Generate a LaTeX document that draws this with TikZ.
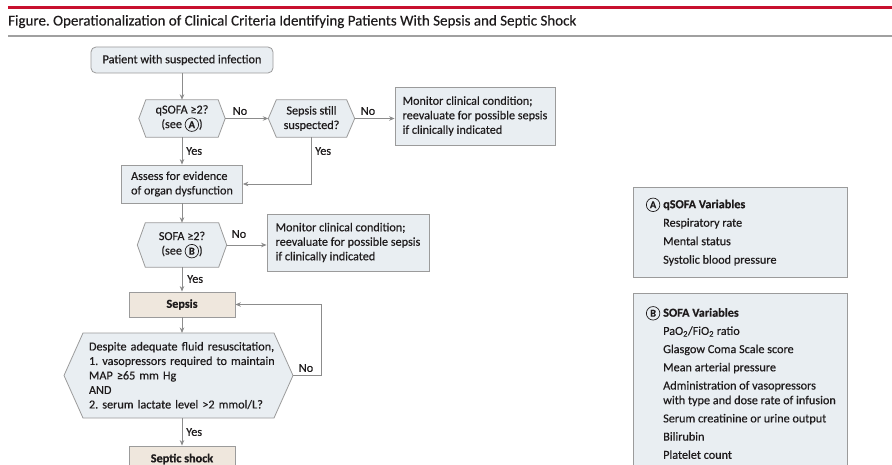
\documentclass[tikz,border=0pt]{standalone}
\usepackage{fontspec}
\setmainfont{Carlito}[UprightFeatures={FakeBold=0.35},BoldFeatures={FakeBold=0.4}]
\usetikzlibrary{arrows.meta,backgrounds}
\definecolor{jred}{HTML}{C8102E}
\definecolor{rulegray}{HTML}{A0A0A0}
\definecolor{boxfill}{HTML}{E9EEF2}
\definecolor{beige}{HTML}{EFE7DD}
\definecolor{edge}{HTML}{9B9B9B}
\definecolor{conn}{HTML}{8C8C8C}
\definecolor{ink}{HTML}{1E1B1C}
\frenchspacing
\newcommand{\circlet}[1]{\tikz[baseline=(cl.base)]\node[circle,draw=ink,line width=0.7pt,inner sep=0.5pt,minimum size=13.5pt,font=\fontsize{10.5}{10.5}\selectfont\bfseries](cl){#1};}
\tikzset{
  base/.style={font=\fontsize{12.2}{14.5}\selectfont, text=ink},
  box/.style={base, draw=edge, line width=0.8pt, fill=boxfill, inner sep=0pt, align=center},
  hexnode/.style={base, inner sep=0pt, align=center},
  hexline/.style={draw=edge, line width=0.8pt, fill=boxfill},
  arr/.style={draw=conn, line width=0.8pt, -{Stealth[length=5.5pt,width=4.5pt]}},
  lbl/.style={base, inner sep=0pt},
  listtext/.style={text=ink, inner sep=0pt, align=left, font=\fontsize{12.2}{18.5}\selectfont},
}
\newcommand{\hexdraw}[2]{%
  \begin{pgfonlayer}{background}
  \path[hexline] (#1.north west) -- (#1.north east) -- ([xshift=#2]#1.east) coordinate (#1-r)
    -- (#1.south east) -- (#1.south west) -- ([xshift=-#2]#1.west) coordinate (#1-l) -- cycle;
  \end{pgfonlayer}}
\begin{document}
\begin{tikzpicture}[x=1pt,y=-1pt]
\useasboundingbox (0,0) rectangle (892,465);
\begin{pgfonlayer}{background}
\fill[white] (0,0) rectangle (892,465);
\end{pgfonlayer}
\fill[jred] (8,6.5) rectangle (892,9.2);
\fill[rulegray] (8,35.3) rectangle (892,37);
\node[anchor=base west, font=\fontsize{15}{17}\selectfont, text=ink, inner sep=0] (title) at (8,25.5)
  {Figure. Operationalization of Clinical Criteria Identifying Patients With Sepsis and Septic Shock};

% flowchart nodes
\node[box, rounded corners=5pt, minimum width=182, minimum height=26] (patient) at (182,60)
  {Patient with suspected infection};
\node[hexnode, minimum width=72, minimum height=37] (q1) at (182,118.5)
  {qSOFA ≥2?\\(see \circlet{A})};
\hexdraw{q1}{7pt}
\node[hexnode, minimum width=70, minimum height=37] (q2) at (311.5,118.5)
  {Sepsis still\\suspected?};
\hexdraw{q2}{8pt}
\node[box, minimum width=160, minimum height=58, align=left] (mon1) at (475,116)
  {Monitor clinical condition;\\reevaluate for possible sepsis\\if clinically indicated};
\node[box, minimum width=121, minimum height=38, align=left] (assess) at (182,184)
  {Assess for evidence\\of organ dysfunction};
\node[hexnode, minimum width=73, minimum height=44] (q3) at (182,245)
  {SOFA ≥2?\\(see \circlet{B})};
\hexdraw{q3}{8pt}
\node[box, minimum width=162, minimum height=57, align=left] (mon2) at (348,242.5)
  {Monitor clinical condition;\\reevaluate for possible sepsis\\if clinically indicated};
\node[box, fill=beige, minimum width=106, minimum height=25, font=\fontsize{12.2}{14.5}\selectfont\bfseries] (sepsis) at (182,304.5)
  {Sepsis};
\node[hexnode, text width=195, align=left, minimum height=85] (q4) at (186.5,375.5)
  {Despite adequate fluid resuscitation,\\1. vasopressors required to maintain\\MAP ≥65 mm Hg\\AND\\2. serum lactate level >2 mmol/L?};
\begin{pgfonlayer}{background}
\path[hexline] (83,333) -- (274,333) -- (293,375.5) coordinate (q4-r) -- (274,418) -- (83,418)
  -- (64,375.5) coordinate (q4-l) -- cycle;
\end{pgfonlayer}
\node[box, fill=beige, minimum width=106, minimum height=26, font=\fontsize{12.2}{14.5}\selectfont\bfseries] (shock) at (182,459)
  {Septic shock};

% connectors
\draw[arr] (patient.south) -- (q1.north);
\draw[arr] (q1-r) -- (q2-l);
\draw[arr] (q2-r) -- (q2-r -| mon1.west);
\draw[arr] (q1.south) -- (assess.north);
\draw[arr] (q2.south) |- (assess.east);
\draw[arr] (assess.south) -- (q3.north);
\draw[arr] (q3-r) -- (q3-r -| mon2.west);
\draw[arr] (q3.south) -- (sepsis.north);
\draw[arr] (sepsis.south) -- (sepsis.south |- 0,333);
\coordinate (loop) at (321,304.5);
\draw[arr] (q4-r) -| (loop) -- (sepsis.east);
\draw[arr] (shock.north |- 0,418) -- (shock.north);

% labels
\node[lbl] (no1) at (240,111) {No};
\node[lbl] (no2) at (368,111) {No};
\node[lbl, anchor=west] (yes1) at (186,151) {Yes};
\node[lbl, anchor=west] (yes2) at (315,151) {Yes};
\node[lbl] (no3) at (239,234) {No};
\node[lbl, anchor=west] (yes3) at (187,279) {Yes};
\node[lbl] (no4) at (306,368) {No};
\node[lbl, anchor=west] (yes4) at (186,432) {Yes};

% variable boxes
\node[box, minimum width=214, minimum height=90] (varA) at (740,232) {};
\node[listtext, anchor=north west] (varAtext) at (663,197.5)
  {\llap{\circlet{A}\hspace{3pt}}\textbf{qSOFA Variables}\\Respiratory rate\\Mental status\\Systolic blood pressure};
\node[box, minimum width=214, minimum height=190] (varB) at (740,388) {};
\node[listtext, anchor=north west, font=\fontsize{12.2}{18.2}\selectfont] (varBtext) at (663,306)
  {\llap{\circlet{B}\hspace{3pt}}\textbf{SOFA Variables}\\PaO\textsubscript{2}/FiO\textsubscript{2} ratio\\Glasgow Coma Scale score\\Mean arterial pressure\\Administration of vasopressors\\[-3.5pt]with type and dose rate of infusion\\Serum creatinine or urine output\\Bilirubin\\Platelet count};
\end{tikzpicture}
\end{document}
